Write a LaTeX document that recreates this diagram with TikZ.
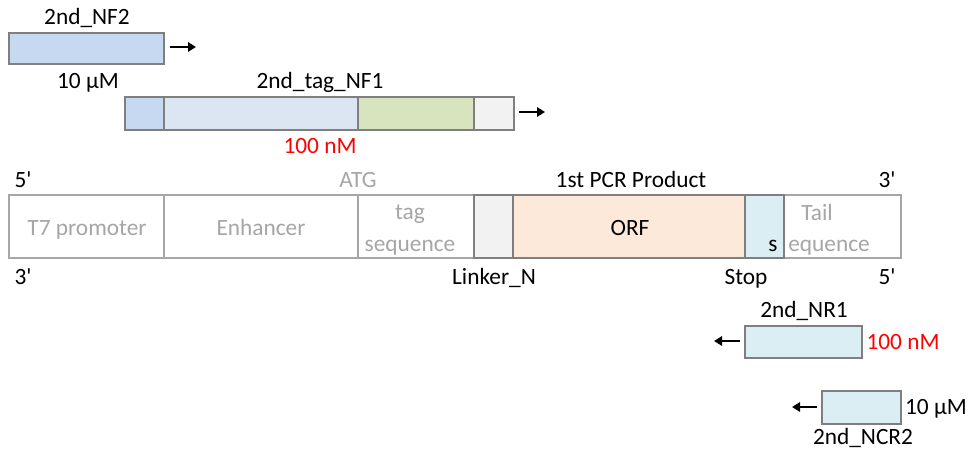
\documentclass[tikz,border=0pt]{standalone}
\usepackage{fontspec}
\setmainfont{Carlito}
\usetikzlibrary{arrows.meta}

\definecolor{lineD}{HTML}{7F7F7F}
\definecolor{lineL}{HTML}{A6A6A6}
\definecolor{txtL}{HTML}{A6A6A6}
\definecolor{blueA}{HTML}{C6D9F1}
\definecolor{blueB}{HTML}{DCE6F2}
\definecolor{greenA}{HTML}{D7E4BD}
\definecolor{grayA}{HTML}{F2F2F2}
\definecolor{peachA}{HTML}{FDE9D9}
\definecolor{cyanA}{HTML}{DBEEF4}
\definecolor{redT}{HTML}{FF0000}

%% box from x1 to x2, y1 to y2 (pixel units)
\newcommand\seg[6]{%
  \node[#6, minimum width={(#3-#2)*0.75pt}, minimum height={(#5-#4)*0.75pt}]
  (#1) at ({(#2+#3)/2},{(#4+#5)/2}) {};}
\newcommand\prm{\textquotesingle}

\tikzset{
  boxD/.style={draw=lineD, line width=2.1pt, inner sep=0pt},
  boxL/.style={draw=lineL, line width=2.1pt, inner sep=0pt, fill=white},
  txt/.style={inner sep=0pt, font=\fontsize{17.5}{23.5}\selectfont, align=center},
  lbl/.style={txt, anchor=base},
  lblL/.style={lbl, text=txtL},
  arr/.style={-{Triangle[length=6pt,width=7pt]}, line width=1.6pt},
}

\begin{document}
\begin{tikzpicture}[x=0.75pt,y=-0.75pt]
  \useasboundingbox (0,0) rectangle (969,452);

  %% forward primer 2nd_NF2
  \seg{nf2}{9}{164}{33}{64}{boxD, fill=blueA}
  \node[lbl] (nf2name) at (87,24.5) {2nd\_NF2};
  \node[lbl] (nf2conc) at (88,88.5) {10 µM};
  \coordinate (nf2a) at (170,47);
  \coordinate (nf2b) at (196,47);
  \draw[arr] (nf2a) -- (nf2b);

  %% forward primer 2nd_tag_NF1
  \seg{nfa}{125}{164}{97}{130}{boxD, fill=blueA}
  \seg{nfb}{164}{358}{97}{130}{boxD, fill=blueB}
  \seg{nfc}{358}{474}{97}{130}{boxD, fill=greenA}
  \seg{nfd}{474}{514}{97}{130}{boxD, fill=grayA}
  \node[lbl] (nf1name) at (320,88.5) {2nd\_tag\_NF1};
  \node[lbl, text=redT] (nf1conc) at (320,153.5) {100 nM};
  \coordinate (nf1a) at (519,112);
  \coordinate (nf1b) at (545,112);
  \draw[arr] (nf1a) -- (nf1b);

  %% 1st PCR product
  \node[lbl] (p5a) at (23,187.5) {5\prm};
  \node[lblL] (atg) at (358,187.5) {ATG};
  \node[lbl] (pcr) at (631,187.5) {1st PCR Product};
  \node[lbl] (p3a) at (887,187.5) {3\prm};

  \seg{t7}{9}{164}{195}{258}{boxL}
  \seg{enh}{164}{358}{195}{258}{boxL}
  \seg{tag}{358}{474}{195}{258}{boxL}
  \seg{tail}{784}{901}{195}{258}{boxL}
  \seg{lnk}{474}{513}{195}{258}{boxD, fill=grayA}
  \seg{orf}{513}{745}{195}{258}{boxD, fill=peachA}
  \seg{stp}{745}{784}{195}{258}{boxD, fill=cyanA}

  \node[lblL] (t7txt) at (87,235.5) {T7 promoter};
  \node[lblL] (enhtxt) at (261,235.5) {Enhancer};
  \node[txt, text=txtL] (tagtxt) at (410,230) {tag\\sequence};
  \node[lbl] (orftxt) at (630,235.5) {ORF};
  \node[lblL] (tailtxt) at (817,220.5) {Tail};
  \node[lblL, anchor=base west] (tailseq) at (788,251.5) {equence};
  \node[lbl] (stps) at (773,251.5) {s};

  \node[lbl] (p3b) at (23,284.5) {3\prm};
  \node[lbl] (lnktxt) at (494,284.5) {Linker\_N};
  \node[lbl] (stptxt) at (746,284.5) {Stop};
  \node[lbl] (p5b) at (887,284.5) {5\prm};

  %% reverse primer 2nd_NR1
  \seg{nr1}{745}{862}{326}{358}{boxD, fill=cyanA}
  \node[lbl] (nr1name) at (804,317.5) {2nd\_NR1};
  \node[lbl, text=redT] (nr1conc) at (903,349.5) {100 nM};
  \coordinate (nr1a) at (740,341);
  \coordinate (nr1b) at (714,341);
  \draw[arr] (nr1a) -- (nr1b);

  %% reverse primer 2nd_NCR2
  \seg{ncr2}{822}{901}{391}{424}{boxD, fill=cyanA}
  \node[lbl] (ncr2name) at (863,444.5) {2nd\_NCR2};
  \node[lbl] (ncr2conc) at (936,414.5) {10 µM};
  \coordinate (ncr2a) at (817,407);
  \coordinate (ncr2b) at (792,407);
  \draw[arr] (ncr2a) -- (ncr2b);

\end{tikzpicture}
\end{document}
